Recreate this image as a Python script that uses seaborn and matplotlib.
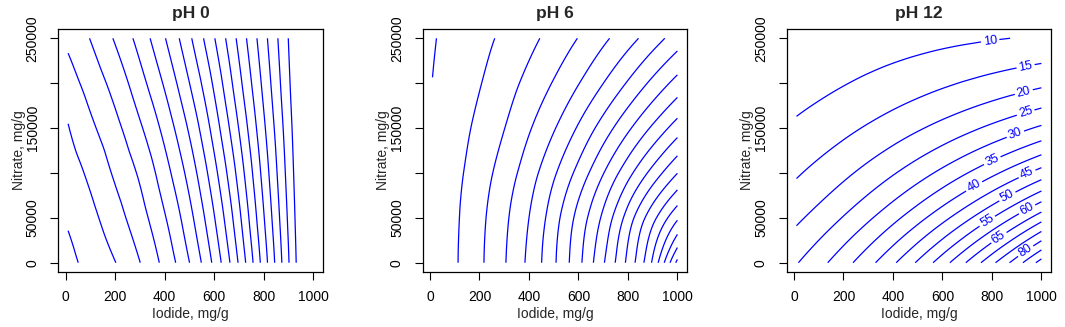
import numpy as np
import matplotlib
matplotlib.use('Agg')
import matplotlib.pyplot as plt
import matplotlib.tri as mtri
import seaborn as sns

# grid of the fitted surfaces (rows = nitrate, columns = iodide)
iodide = [10, 100, 200, 300, 400, 500, 600, 700, 800, 900, 1000]
nitrate = [0, 50000, 100000, 150000, 200000, 250000]

# pH 0 surface, in contour-level units
ph0_z = [
    [0.770, 1.297, 1.973, 2.980, 4.308, 5.982, 8.237, 11.097, 14.448, 17.897, 21.34],
    [1.111, 1.719, 2.583, 3.597, 4.911, 6.660, 8.929, 11.729, 14.903, 18.128, 21.35],
    [1.532, 2.212, 3.145, 4.155, 5.575, 7.367, 9.649, 12.357, 15.348, 18.355, 21.36],
    [1.954, 2.792, 3.721, 4.854, 6.317, 8.147, 10.412, 13.021, 15.797, 18.576, 21.40],
    [2.556, 3.392, 4.369, 5.616, 7.129, 8.982, 11.171, 13.672, 16.241, 18.814, 21.40],
    [3.238, 4.032, 5.105, 6.388, 7.936, 9.800, 11.929, 14.259, 16.628, 19.000, 21.37],
]
ph0_levels = list(range(1, 20))

# pH 6 surface
ph6_z = [
    [0.22, 0.89, 1.81, 2.92, 4.23, 5.83, 7.72, 9.89, 12.26, 15.16, 19.30],
    [0.20, 0.85, 1.73, 2.79, 4.00, 5.55, 7.34, 9.21, 11.43, 13.67, 15.83],
    [0.15, 0.74, 1.52, 2.45, 3.53, 4.84, 6.32, 7.95, 9.65, 11.36, 12.98],
    [0.08, 0.60, 1.23, 1.98, 2.90, 3.91, 5.12, 6.44, 7.81, 9.17, 10.50],
    [0.01, 0.45, 0.95, 1.58, 2.28, 3.07, 3.96, 4.99, 6.10, 7.25, 8.36],
    [-0.07, 0.32, 0.73, 1.19, 1.74, 2.36, 3.03, 3.79, 4.62, 5.53, 6.49],
]
ph6_levels = list(range(0, 20))

# pH 12 surface (labelled levels 10..90)
ph12_z = [
    [24.69, 28.38, 33.04, 38.32, 44.19, 50.68, 57.76, 65.45, 73.74, 82.64, 92.14],
    [19.07, 21.82, 25.29, 29.19, 33.52, 38.25, 43.39, 48.92, 54.87, 61.21, 67.92],
    [14.49, 16.45, 18.89, 21.60, 24.57, 27.79, 31.24, 34.91, 38.79, 42.88, 47.15],
    [10.83, 12.15, 13.76, 15.53, 17.43, 19.44, 21.56, 23.77, 26.06, 28.41, 30.83],
    [7.96, 8.79, 9.78, 10.84, 11.95, 13.09, 14.26, 15.44, 16.63, 17.81, 18.98],
    [5.76, 6.23, 6.78, 7.30, 7.80, 8.30, 8.80, 9.25, 9.70, 10.10, 10.50],
]
ph12_levels = list(range(10, 95, 5))
# where the level labels sit (levels 10..65 and 80)
ph12_label_spots = [(795, 243000), (936, 219000), (929, 190000), (936, 167500),
                    (895, 143000), (802, 113300), (728, 85000), (942, 99000),
                    (862, 74000), (781, 46300), (942, 59500), (828, 28000),
                    (936, 13000)]

titles = ['pH 0', 'pH 6', 'pH 12']
x_ticks = [0, 200, 400, 600, 800, 1000]
y_ticks = [0, 50000, 100000, 150000, 200000, 250000]
y_tick_labels = ['0', '50000', '', '150000', '', '250000']

sns.set_theme(style='ticks')
plt.rcParams['font.family'] = ['Liberation Sans', 'DejaVu Sans']

LINE_BLUE = '#0000ff'


def smooth_surface(z):
    # triangulate the grid in balanced units, let matplotlib refine it smoothly
    xs = np.array(iodide, dtype=float)
    ys = np.array(nitrate, dtype=float) / 250.0
    xx, yy = np.meshgrid(xs, ys)
    nc = len(xs)
    tris = []
    for j in range(len(ys) - 1):
        for i in range(nc - 1):
            p = j * nc + i
            tris.append([p, p + 1, p + nc + 1])
            tris.append([p, p + nc + 1, p + nc])
    tri = mtri.Triangulation(xx.ravel(), yy.ravel(), tris)
    refiner = mtri.UniformTriRefiner(tri)
    tri_r, z_r = refiner.refine_field(np.array(z, dtype=float).ravel(), subdiv=4)
    tri_out = mtri.Triangulation(tri_r.x, tri_r.y * 250.0, tri_r.triangles)
    return tri_out, z_r


fig = plt.figure(figsize=(10.65, 3.27), dpi=100)
lefts = [58.3, 422.7, 786.7]
surfaces = [ph0_z, ph6_z, ph12_z]
levels = [ph0_levels, ph6_levels, ph12_levels]

for k in range(3):
    ax = fig.add_axes([lefts[k] / 1065, 1 - 271.7 / 327, 264.5 / 1065, 242.4 / 327])
    tri, zr = smooth_surface(surfaces[k])
    cs = ax.tricontour(tri, zr, levels=levels[k], colors=LINE_BLUE, linewidths=0.9)
    if k == 2:
        ax.clabel(cs, manual=ph12_label_spots, inline=True, inline_spacing=3,
                  fmt='%d', fontsize=9)
        for t in cs.labelTexts:
            t.set_color(LINE_BLUE)
    # keep the lines blue whatever clabel did to the colour mapping
    cs.set_array(None)
    cs.set_edgecolor(LINE_BLUE)
    ax.set_xlim(-29.6, 1039.6)
    ax.set_ylim(-10000, 260000)
    ax.set_xticks(x_ticks)
    ax.set_xticklabels([str(v) for v in x_ticks])
    ax.set_yticks(y_ticks)
    ax.set_yticklabels(y_tick_labels, rotation=90, va='center')
    ax.tick_params(direction='out', length=6, width=0.8, colors='black', labelsize=10, pad=7.5)
    for sp in ax.spines.values():
        sp.set_visible(True)
        sp.set_color('black')
        sp.set_linewidth(0.9)
    ax.set_xlabel('Iodide, mg/g', fontsize=10, labelpad=1.5)
    ax.set_ylabel('Nitrate, mg/g', fontsize=10, labelpad=0)
    ax.set_title(titles[k], fontweight='bold', fontsize=12.5, pad=8)

fig.savefig('out.png', dpi=100, facecolor='white')
